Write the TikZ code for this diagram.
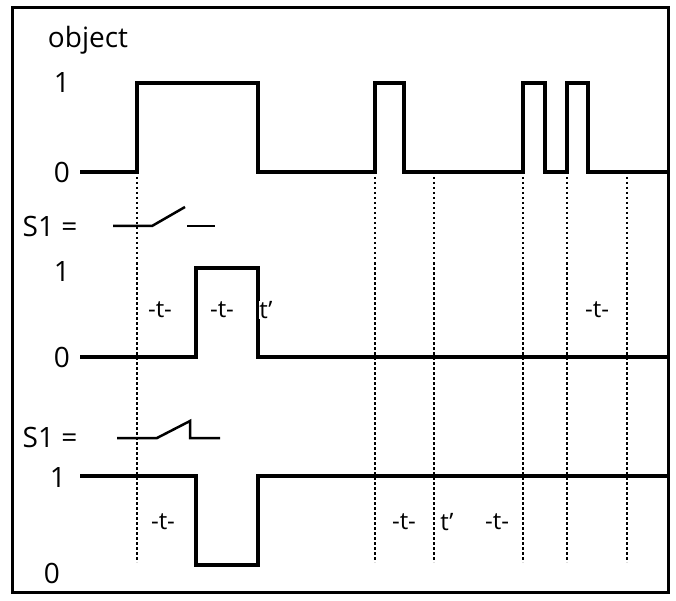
\documentclass[tikz,border=0pt]{standalone}
\usepackage{fontspec}
\setmainfont{Open Sans}
\begin{document}
\begin{tikzpicture}[x=1pt,y=-1pt,
  sig/.style={line width=4.5pt,line join=miter},
  dot/.style={line width=2pt,dash pattern=on 2.5pt off 2.5pt},
  sw/.style={line width=2.5pt},
  lab/.style={font=\fontsize{28}{30}\selectfont,inner sep=0},
  tl/.style={font=\fontsize{24}{26}\selectfont,inner sep=0,fill=white}]
\useasboundingbox (0,0) rectangle (676,601);
\draw[line width=3pt] (12,8) rectangle (668,592);
% dotted lines
\foreach \x/\n in {137/a,375/b,434/c,523/d,567/e,627/f}{
  \coordinate (t\n) at (\x,172); \coordinate (b\n) at (\x,562);
  \draw[dot] (t\n) -- (b\n);}
% signals
\draw[sig] (80,172) -- (137,172) -- (137,83) -- (258,83) -- (258,172) -- (375,172) -- (375,83) -- (404,83) -- (404,172) -- (523,172) -- (523,83) -- (545,83) -- (545,172) -- (567,172) -- (567,83) -- (588,83) -- (588,172) -- (668,172);
\draw[sig] (80,357) -- (196,357) -- (196,268) -- (258,268) -- (258,357) -- (668,357);
\draw[sig] (80,476) -- (196,476) -- (196,565) -- (258,565) -- (258,476) -- (668,476);
% labels
\node[lab] (obj) at (88,40) {object};
\node[lab] (l1a) at (62,83) {1};
\node[lab] (l0a) at (62,172) {0};
\node[lab] (s1a) at (50,226) {S1 =};
\node[lab] (l1b) at (62,272) {1};
\node[lab] (l0b) at (62,357) {0};
\node[lab] (s1b) at (50,437) {S1 =};
\node[lab] (l1c) at (58,478) {1};
\node[lab] (l0c) at (52,573) {0};
% switches
\draw[sw] (113,226) -- (152,226) -- (185,207);
\draw[sw] (187,226) -- (215,226);
\draw[sw] (117,438) -- (157,438) -- (190,421) -- (190,438) -- (220,438);
% time labels
\node[tl] (ta) at (160,310) {-t-};
\node[tl] (tb) at (222,310) {-t-};
\node[tl] (tc) at (266,310) {t'};
\node[tl] (td) at (597,310) {-t-};
\node[tl] (te) at (163,522) {-t-};
\node[tl] (tf) at (404,522) {-t-};
\node[tl] (tg) at (447,522) {t'};
\node[tl] (th) at (497,522) {-t-};
\end{tikzpicture}
\end{document}
